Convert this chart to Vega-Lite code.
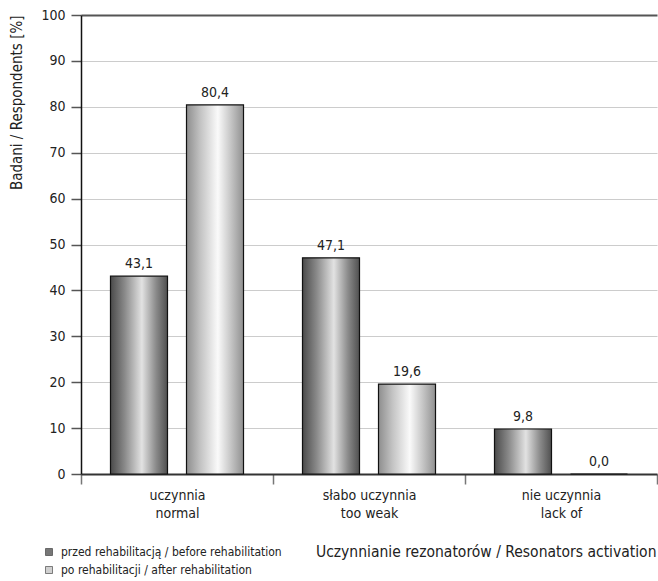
{
  "$schema": "https://vega.github.io/schema/vega-lite/v6.json",
  "autosize": "none",
  "padding": {"left": 81, "top": 15, "right": 1, "bottom": 107},
  "width": 576,
  "height": 459,
  "config": {
    "font": "Liberation Sans Narrow, DejaVu Sans Condensed, sans-serif",
    "view": {"stroke": null},
    "locale": {"number": {"decimal": ",", "thousands": " ", "grouping": [3], "currency": ["", " zł"]}}
  },
  "data": {
    "values": [
      {"category": "uczynnia|normal", "period": "przed rehabilitacją / before rehabilitation", "value": 43.1},
      {"category": "uczynnia|normal", "period": "po rehabilitacji / after rehabilitation", "value": 80.4},
      {"category": "słabo uczynnia|too weak", "period": "przed rehabilitacją / before rehabilitation", "value": 47.1},
      {"category": "słabo uczynnia|too weak", "period": "po rehabilitacji / after rehabilitation", "value": 19.6},
      {"category": "nie uczynnia|lack of", "period": "przed rehabilitacją / before rehabilitation", "value": 9.8},
      {"category": "nie uczynnia|lack of", "period": "po rehabilitacji / after rehabilitation", "value": 0.0}
    ]
  },
  "encoding": {
    "x": {
      "field": "category", "type": "nominal", "sort": null,
      "scale": {"paddingInner": 0, "paddingOuter": 0},
      "axis": {
        "labelAngle": 0,
        "labelExpr": "split(datum.label, '|')",
        "labelFontSize": 14,
        "labelLineHeight": 18,
        "labelColor": "#222",
        "labelPadding": 4,
        "tickBand": "extent",
        "tickSize": 10,
        "tickColor": "#777",
        "tickWidth": 1.5,
        "domainColor": "#333",
        "domainWidth": 2,
        "title": "Uczynnianie rezonatorów / Resonators activation",
        "titleFontSize": 15.5,
        "titleFontWeight": "normal",
        "titleColor": "#222",
        "titleAnchor": "end",
        "titleAlign": "right",
        "titleX": 575,
        "titleY": 70
      }
    },
    "xOffset": {
      "field": "period", "type": "nominal",
      "scale": {"domain": ["przed rehabilitacją / before rehabilitation", "po rehabilitacji / after rehabilitation"], "paddingInner": 0.25, "paddingOuter": 0.388}
    },
    "y": {
      "field": "value", "type": "quantitative",
      "scale": {"domain": [0, 100], "nice": false},
      "axis": {
        "values": [0, 10, 20, 30, 40, 50, 60, 70, 80, 90, 100],
        "labelFontSize": 14,
        "labelColor": "#222",
        "labelPadding": 6,
        "tickSize": 10,
        "tickColor": "#555",
        "tickWidth": 1.5,
        "domainColor": "#111",
        "domainWidth": 1.5,
        "grid": true,
        "gridColor": {"condition": {"test": "datum.value === 100", "value": "#555"}, "value": "#cccccc"},
        "gridWidth": {"condition": {"test": "datum.value === 100", "value": 2}, "value": 1.2},
        "title": "Badani / Respondents [%]",
        "titleFontSize": 15,
        "titleFontWeight": "normal",
        "titleColor": "#222",
        "titleAnchor": "end",
        "titlePadding": 16
      }
    }
  },
  "layer": [
    {
      "transform": [{"filter": "datum.period === 'przed rehabilitacją / before rehabilitation'"}],
      "mark": {
        "type": "bar",
        "stroke": "#111",
        "strokeWidth": 1.2,
        "fill": {"gradient": "linear", "x1": 0, "y1": 0, "x2": 1, "y2": 0,
          "stops": [
            {"offset": 0, "color": "#4a4a4a"},
            {"offset": 0.25, "color": "#8a8a8a"},
            {"offset": 0.55, "color": "#e2e2e2"},
            {"offset": 0.8, "color": "#8a8a8a"},
            {"offset": 1, "color": "#505050"}
          ]}
      }
    },
    {
      "transform": [{"filter": "datum.period === 'po rehabilitacji / after rehabilitation'"}],
      "mark": {
        "type": "bar",
        "stroke": "#111",
        "strokeWidth": 1.2,
        "fill": {"gradient": "linear", "x1": 0, "y1": 0, "x2": 1, "y2": 0,
          "stops": [
            {"offset": 0, "color": "#8e8e8e"},
            {"offset": 0.25, "color": "#c4c4c4"},
            {"offset": 0.55, "color": "#fafafa"},
            {"offset": 0.8, "color": "#c0c0c0"},
            {"offset": 1, "color": "#909090"}
          ]}
      }
    },
    {
      "mark": {"type": "text", "baseline": "alphabetic", "dy": -8, "fontSize": 14, "color": "#222"},
      "encoding": {"text": {"field": "value", "type": "quantitative", "format": ".1f"}}
    },
    {
      "mark": {"type": "square", "opacity": 0, "stroke": "#333", "strokeWidth": 0.6},
      "encoding": {
        "color": {
          "field": "period", "type": "nominal",
          "scale": {"domain": ["przed rehabilitacją / before rehabilitation", "po rehabilitacji / after rehabilitation"], "range": ["#777777", "#d0d0d0"]},
          "legend": {
            "title": null,
            "orient": "none",
            "legendX": -38,
            "legendY": 531,
            "direction": "vertical",
            "symbolType": "square",
            "symbolSize": 49,
            "symbolOpacity": 1,
            "symbolStrokeColor": "#333",
            "symbolStrokeWidth": 0.6,
            "labelFontSize": 12,
            "labelColor": "#222",
            "labelOffset": 6,
            "rowPadding": 6,
            "labelLimit": 400
          }
        }
      }
    }
  ]
}
